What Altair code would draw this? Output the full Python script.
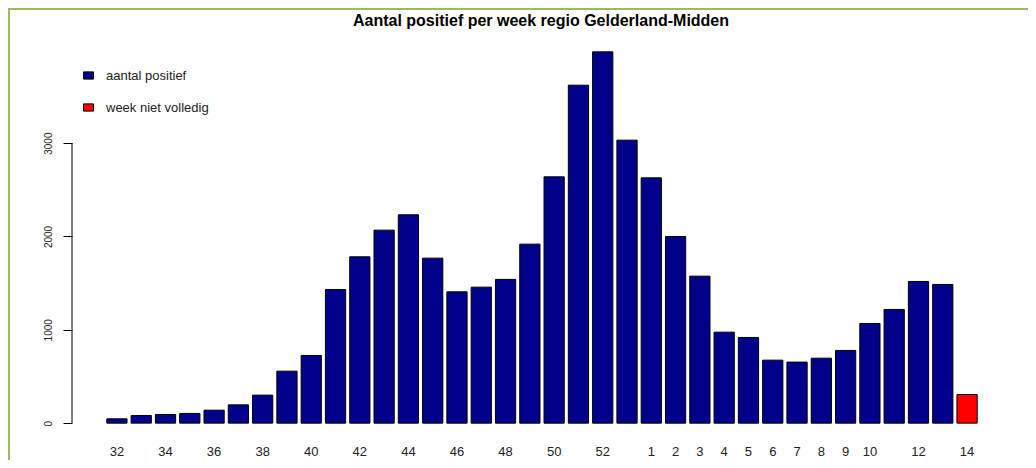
import altair as alt
import pandas as pd

# ---- data ----
weeks = [str(w) for w in range(32, 54)] + [str(w) for w in range(1, 15)]
values = [46, 82, 93, 104, 139, 196, 300, 557, 725, 1432,
          1782, 2068, 2232, 1768, 1407, 1457, 1540, 1918, 2639, 3621,
          3978, 3032, 2628, 2000, 1575, 975, 918, 675, 654, 696,
          779, 1068, 1218, 1518, 1486, 307]
status = ["aantal positief"] * 35 + ["week niet volledig"]
shown_labels = ["32", "34", "36", "38", "40", "42", "44", "46", "48", "50", "52",
                "1", "2", "3", "4", "5", "6", "7", "8", "9", "10", "12", "14"]
y_ticks = [0, 1000, 2000, 3000]
legend_names = ["aantal positief", "week niet volledig"]
legend_colors = ["#00008B", "#FF0000"]
title_text = "Aantal positief per week regio Gelderland-Midden"

df = pd.DataFrame({"week": weeks, "aantal": values, "status": status})
axis_df = pd.DataFrame({"lo": [min(y_ticks)], "hi": [max(y_ticks)]})

FONT = "Liberation Sans"
W, H = 940, 401
PAD_L, PAD_T, PAD_R, PAD_B = 64, 29, 16, 22

# R barplot geometry: bar width 1, space 0.2, axis range extended by 4%
gap = W * 0.04 / 1.08
ymax = max(values)
ydom = [-0.04 * ymax, 1.04 * ymax]

bars = alt.Chart(df).mark_bar(stroke="black", strokeWidth=1).encode(
    x=alt.X("week:N", sort=None,
            scale=alt.Scale(paddingInner=1/6, paddingOuter=0, range=[gap, W - gap]),
            axis=alt.Axis(title=None, values=shown_labels, ticks=False, domain=False,
                          labelAngle=0, labelFont=FONT, labelFontSize=13,
                          labelColor="#222222", labelPadding=7, labelBaseline="top")),
    y=alt.Y("aantal:Q",
            scale=alt.Scale(domain=ydom, nice=False, zero=False),
            axis=alt.Axis(title=None, values=y_ticks, format="d", grid=False, domain=False,
                          tickSize=9, tickColor="black", labelAngle=270,
                          labelAlign="center", labelBaseline="bottom",
                          labelPadding=10, labelFont=FONT, labelFontSize=10,
                          labelColor="#222222")),
    fill=alt.Fill("status:N",
                  scale=alt.Scale(domain=legend_names, range=legend_colors),
                  legend=alt.Legend(title=None, orient="none", legendX=10, legendY=32,
                                    symbolType="M-1,-0.72L1,-0.72L1,0.72L-1,0.72Z",
                                    symbolSize=100, symbolStrokeColor="black",
                                    symbolStrokeWidth=1, labelFont=FONT,
                                    labelFontSize=13, labelColor="#222222",
                                    labelOffset=11, rowPadding=18, padding=0)),
)

axis_line = alt.Chart(axis_df).mark_rule(color="black", strokeWidth=1).encode(
    x=alt.value(0), y="lo:Q", y2="hi:Q")

title = alt.Chart(axis_df).mark_text(
    font=FONT, fontSize=16, fontWeight="bold", color="black",
    align="center", baseline="alphabetic").encode(
    x=alt.value(W / 2 - 1), y=alt.value(-11), text=alt.value(title_text))

border_top = alt.Chart(axis_df).mark_rule(color="#9BBB59", strokeWidth=2).encode(
    x=alt.value(-PAD_L), x2=alt.value(W + PAD_R), y=alt.value(-PAD_T + 1))
border_left = alt.Chart(axis_df).mark_rule(color="#9BBB59", strokeWidth=2).encode(
    x=alt.value(-PAD_L + 1), y=alt.value(-PAD_T), y2=alt.value(H + PAD_B))

chart = alt.layer(bars, axis_line, title, border_top, border_left).properties(
    width=W, height=H,
    background="white",
    padding={"left": PAD_L, "top": PAD_T, "right": PAD_R, "bottom": PAD_B},
    autosize=alt.AutoSizeParams(type="none"),
).configure_view(strokeWidth=0, stroke="transparent")

chart.save("out.html", embed_options={"renderer": "svg", "actions": False})
